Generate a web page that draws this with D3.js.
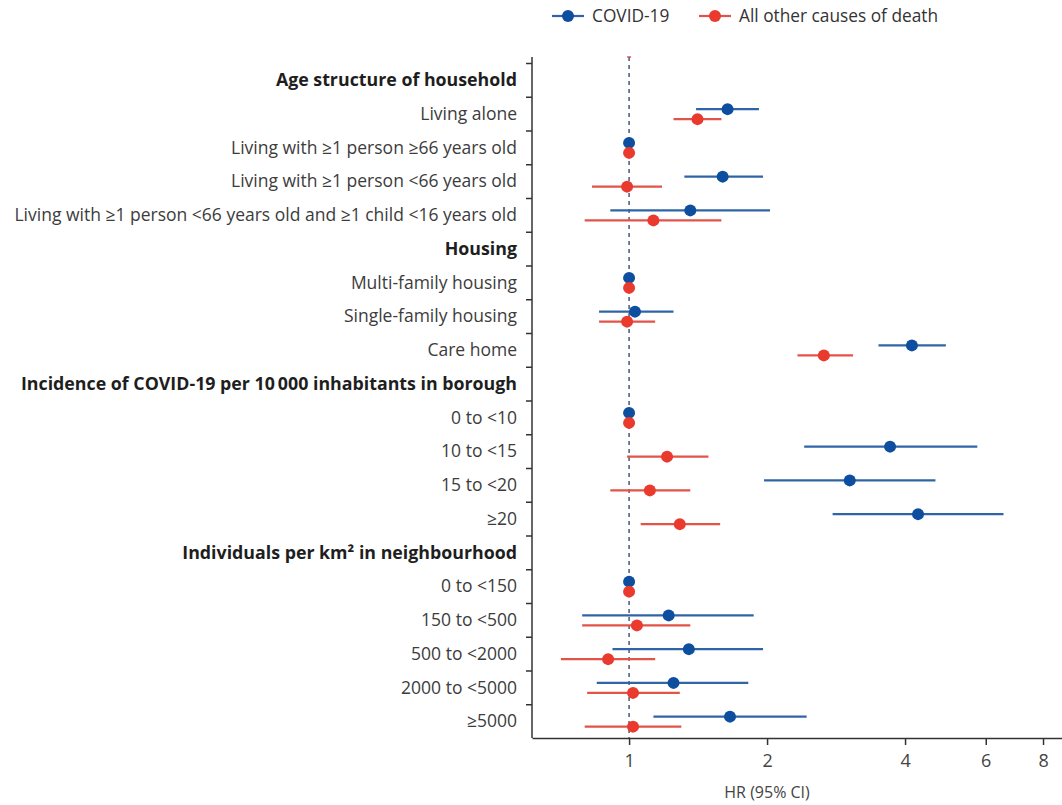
<!DOCTYPE html>
<html>
<head>
<meta charset="utf-8">
<script src="https://cdn.jsdelivr.net/npm/d3@7"></script>
<style>
  body { margin: 0; background: #fff; }
  svg { font-family: "Open Sans", Lato, sans-serif; }
</style>
</head>
<body>
<svg id="chart" width="1062" height="805"></svg>
<script>
// rows, top to bottom
const rowLabels = [
  "Age structure of household",
  "Living alone",
  "Living with ≥1 person ≥66 years old",
  "Living with ≥1 person <66 years old",
  "Living with ≥1 person <66 years old and ≥1 child <16 years old",
  "Housing",
  "Multi-family housing",
  "Single-family housing",
  "Care home",
  "Incidence of COVID-19 per 10\u2009000 inhabitants in borough",
  "0 to <10",
  "10 to <15",
  "15 to <20",
  "≥20",
  "Individuals per km² in neighbourhood",
  "0 to <150",
  "150 to <500",
  "500 to <2000",
  "2000 to <5000",
  "≥5000"
];
const headerRows = [0, 5, 9, 14];

// hazard ratios (null = header row)
const covidHR = [null, 1.64, 1, 1.60, 1.36, null, 1, 1.03, 4.14, null, 1, 3.71, 3.03, 4.27, null, 1, 1.22, 1.35, 1.25, 1.66];
const covidLo = [null, 1.40, 1, 1.32, 0.91, null, 1, 0.86, 3.50, null, 1, 2.41, 1.97, 2.78, null, 1, 0.79, 0.92, 0.85, 1.13];
const covidHi = [null, 1.92, 1, 1.96, 2.03, null, 1, 1.25, 4.91, null, 1, 5.75, 4.66, 6.56, null, 1, 1.87, 1.96, 1.82, 2.44];

const otherHR = [null, 1.41, 1, 0.99, 1.13, null, 1, 0.99, 2.66, null, 1, 1.21, 1.11, 1.29, null, 1, 1.04, 0.90, 1.02, 1.02];
const otherLo = [null, 1.25, 1, 0.83, 0.80, null, 1, 0.86, 2.33, null, 1, 0.99, 0.91, 1.06, null, 1, 0.79, 0.71, 0.81, 0.80];
const otherHi = [null, 1.59, 1, 1.18, 1.59, null, 1, 1.14, 3.08, null, 1, 1.49, 1.36, 1.58, null, 1, 1.36, 1.14, 1.29, 1.30];

const xTicks = [1, 2, 4, 6, 8];

const series = [
  { name: "COVID-19", color: "#0d4f9e", lineColor: "#2f64a6", hr: covidHR, lo: covidLo, hi: covidHi, dy: -4.5 },
  { name: "All other causes of death", color: "#ea3a2e", lineColor: "#e2534a", hr: otherHR, lo: otherLo, hi: otherHi, dy: 5.5 }
];

const svg = d3.select("#chart");

const x = d3.scaleLog().domain([0.614, 8.8]).range([532, 1062]);
const y = d3.scaleLinear().domain([0, rowLabels.length]).range([63, 738]);
const axisTop = 57;
const rowY = i => y(i + 0.5);

// left axis: ticks at row boundaries
const yAxis = svg.append("g")
  .attr("transform", `translate(${x.range()[0]},0)`)
  .call(d3.axisLeft(y).tickValues(d3.range(0, rowLabels.length)).tickSize(6).tickFormat(""));
yAxis.select(".domain").remove();
yAxis.selectAll(".tick line").attr("stroke", "#333").attr("stroke-width", 1.5);
yAxis.append("line")
  .attr("y1", axisTop).attr("y2", y.range()[1])
  .attr("stroke", "#333").attr("stroke-width", 1.5);

// bottom axis
const xAxis = svg.append("g")
  .attr("transform", `translate(0,${y.range()[1]})`)
  .call(d3.axisBottom(x).tickValues(xTicks).tickFormat(d3.format("d")).tickSize(7).tickSizeOuter(0).tickPadding(9));
xAxis.select(".domain").attr("stroke", "#333").attr("stroke-width", 1.5);
xAxis.selectAll(".tick line").attr("stroke", "#333").attr("stroke-width", 1.5);
xAxis.selectAll(".tick text")
  .attr("font-family", "'Open Sans', sans-serif")
  .attr("font-size", 18)
  .attr("fill", "#444");

svg.append("text")
  .attr("x", (x(1) + x(4)) / 2)
  .attr("y", 792)
  .attr("dy", "0.35em")
  .attr("text-anchor", "middle")
  .attr("font-size", 16)
  .attr("fill", "#444")
  .text("HR (95% CI)");

// reference line at HR = 1
svg.append("line")
  .attr("x1", x(1)).attr("x2", x(1))
  .attr("y1", axisTop).attr("y2", y.range()[1])
  .attr("stroke", "#4a5a78")
  .attr("stroke-width", 1.5)
  .attr("stroke-dasharray", "4,4");
svg.append("line")
  .attr("x1", x(1) - 2).attr("x2", x(1) + 2)
  .attr("y1", axisTop).attr("y2", axisTop)
  .attr("stroke", "#d9556a").attr("stroke-width", 1.5);

// row labels
svg.append("g").selectAll("text")
  .data(rowLabels)
  .join("text")
  .attr("x", 517)
  .attr("y", (d, i) => rowY(i))
  .attr("dy", "0.35em")
  .attr("text-anchor", "end")
  .attr("font-size", (d, i) => headerRows.includes(i) ? 17.8 : 17.5)
  .attr("font-weight", (d, i) => headerRows.includes(i) ? "bold" : "normal")
  .attr("fill", (d, i) => headerRows.includes(i) ? "#1e1e1e" : "#3c3c3c")
  .text(d => d);

// intervals and points
series.forEach(s => {
  const idx = d3.range(rowLabels.length).filter(i => s.hr[i] != null);
  const g = svg.append("g");
  g.selectAll("line")
    .data(idx.filter(i => s.lo[i] !== s.hi[i]))
    .join("line")
    .attr("x1", i => x(s.lo[i]))
    .attr("x2", i => x(s.hi[i]))
    .attr("y1", i => rowY(i) + s.dy)
    .attr("y2", i => rowY(i) + s.dy)
    .attr("stroke", s.lineColor)
    .attr("stroke-width", 2.2);
  g.selectAll("circle")
    .data(idx)
    .join("circle")
    .attr("cx", i => x(s.hr[i]))
    .attr("cy", i => rowY(i) + s.dy)
    .attr("r", 6)
    .attr("fill", s.color);
});

// legend
const legendX = [552, 699];
const legend = svg.append("g").selectAll("g")
  .data(series)
  .join("g")
  .attr("transform", (d, i) => `translate(${legendX[i]},16)`);
legend.append("line")
  .attr("x1", 0).attr("x2", 32)
  .attr("stroke", d => d.lineColor)
  .attr("stroke-width", 2.2);
legend.append("circle")
  .attr("cx", 16)
  .attr("r", 6)
  .attr("fill", d => d.color);
legend.append("text")
  .attr("x", 40)
  .attr("dy", "0.35em")
  .attr("font-size", 17.3)
  .attr("fill", "#333")
  .text(d => d.name);
</script>
</body>
</html>
